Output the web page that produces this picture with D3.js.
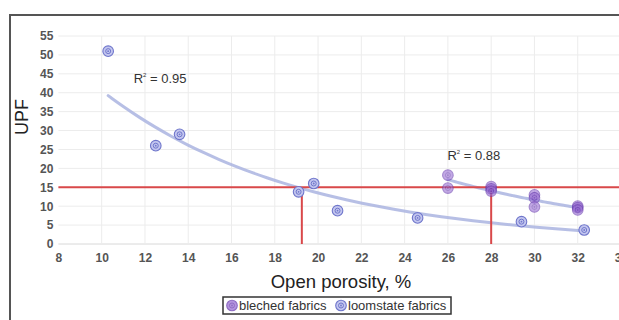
<!DOCTYPE html>
<html>
<head>
<meta charset="utf-8">
<script src="https://cdn.jsdelivr.net/npm/d3@7"></script>
<style>
  body { margin: 0; background: #fff; }
  svg { display: block; font-family: "Liberation Sans", Arial, sans-serif; }
</style>
</head>
<body>
<svg id="chart" width="619" height="320"></svg>
<script>
// values
const loomX = [10.3, 12.5, 13.6, 19.1, 19.8, 20.9, 24.6, 29.4, 32.3];
const loomY = [51, 26, 29, 13.8, 16, 8.8, 6.9, 5.9, 3.7];
const blechX = [26, 26, 28, 28, 28, 30, 30, 30, 32, 32, 32];
const blechY = [18.2, 14.8, 15.2, 14.6, 14, 13, 12.2, 9.8, 10, 9.6, 9];
const xTicks = [8, 10, 12, 14, 16, 18, 20, 22, 24, 26, 28, 30, 32, 34];
const yTicks = [0, 5, 10, 15, 20, 25, 30, 35, 40, 45, 50, 55];
const upfLimit = 15;
const limitPorosity = [19.25, 28];
const r2Labels = ["0.95", "0.88"];

const svg = d3.select("#chart");

const x = d3.scaleLinear().domain([8, 34]).range([58.4, 621]);
const y = d3.scaleLinear().domain([0, 55]).range([244, 36]);

// frame (top + left border visible)
svg.append("path")
  .attr("d", "M10,320 L10,15 L619,15")
  .attr("fill", "none")
  .attr("stroke", "#555")
  .attr("stroke-width", 2);

// grid
svg.append("g")
  .selectAll("line")
  .data(yTicks)
  .enter()
  .append("line")
  .attr("x1", x(8)).attr("x2", 619)
  .attr("y1", d => y(d)).attr("y2", d => y(d))
  .attr("stroke", d => d === 0 ? "#d8d8d8" : "#ececec")
  .attr("stroke-width", 1);

svg.append("g")
  .selectAll("line")
  .data(xTicks.filter(d => d > 8))
  .enter()
  .append("line")
  .attr("x1", d => x(d)).attr("x2", d => x(d))
  .attr("y1", y(0)).attr("y2", y(55))
  .attr("stroke", "#ececec")
  .attr("stroke-width", 1);

// axes labels
const yAxis = svg.append("g")
  .attr("transform", `translate(${x(8) - 5},0)`)
  .call(d3.axisLeft(y).tickValues(yTicks).tickSize(0).tickPadding(0));
const xAxis = svg.append("g")
  .attr("transform", `translate(0,${y(0) + 9})`)
  .call(d3.axisBottom(x).tickValues(xTicks).tickSize(0).tickPadding(0));
[yAxis, xAxis].forEach(a => {
  a.select(".domain").remove();
  a.selectAll("text")
    .attr("font-size", 12)
    .attr("font-weight", "bold")
    .attr("fill", "#555")
    .attr("font-family", "Liberation Sans, Arial, sans-serif");
});

svg.append("text")
  .attr("transform", "translate(28,117) rotate(-90)")
  .attr("text-anchor", "middle")
  .attr("font-size", 18)
  .attr("fill", "#222")
  .text("UPF");

svg.append("text")
  .attr("x", 341).attr("y", 288)
  .attr("text-anchor", "middle")
  .attr("font-size", 18.5)
  .attr("fill", "#222")
  .text("Open porosity, %");

// exponential trend (least squares on ln y), like a spreadsheet trendline
function expFit(xs, ys) {
  const ly = ys.map(Math.log);
  const mx = d3.mean(xs), my = d3.mean(ly);
  const b = d3.sum(xs, (v, i) => (v - mx) * (ly[i] - my)) / d3.sum(xs, v => (v - mx) * (v - mx));
  const a = Math.exp(my - b * mx);
  return v => a * Math.exp(b * v);
}

const trendLine = d3.line().x(d => x(d[0])).y(d => y(d[1])).curve(d3.curveBasis);

function drawTrend(xs, ys) {
  const f = expFit(xs, ys);
  const [lo, hi] = d3.extent(xs);
  const pts = d3.range(0, 31).map(i => {
    const v = lo + (hi - lo) * i / 30;
    return [v, f(v)];
  });
  svg.append("path")
    .attr("d", trendLine(pts))
    .attr("fill", "none")
    .attr("stroke", "#aab4e0")
    .attr("stroke-width", 3)
    .attr("stroke-linecap", "round")
    .attr("opacity", 0.85);
}
drawTrend(loomX, loomY);
drawTrend(blechX, blechY);

// red limit lines
const red = "#d9484a";
svg.append("line")
  .attr("x1", x(8)).attr("x2", 619)
  .attr("y1", y(upfLimit)).attr("y2", y(upfLimit))
  .attr("stroke", red).attr("stroke-width", 2);
svg.append("g")
  .selectAll("line")
  .data(limitPorosity)
  .enter()
  .append("line")
  .attr("x1", d => x(d)).attr("x2", d => x(d))
  .attr("y1", y(upfLimit)).attr("y2", y(0))
  .attr("stroke", red).attr("stroke-width", 2);

// markers
function marker(g, outerFill, ringColor, opacity) {
  g.attr("opacity", opacity);
  g.append("circle").attr("r", 5.3).attr("fill", outerFill).attr("stroke", ringColor).attr("stroke-width", 1.1);
  g.append("circle").attr("r", 2.5).attr("fill", "none").attr("stroke", ringColor).attr("stroke-width", 1);
  g.append("circle").attr("r", 0.9).attr("fill", ringColor);
}

svg.append("g")
  .selectAll("g")
  .data(loomX.map((v, i) => [v, loomY[i]]))
  .enter()
  .append("g")
  .attr("transform", d => `translate(${x(d[0])},${y(d[1])})`)
  .each(function() { marker(d3.select(this), "#c3c6ef", "#6f76cb", 1); });

svg.append("g")
  .selectAll("g")
  .data(blechX.map((v, i) => [v, blechY[i]]))
  .enter()
  .append("g")
  .attr("transform", d => `translate(${x(d[0])},${y(d[1])})`)
  .each(function() { marker(d3.select(this), "#9a70d4", "#6a3cb0", 0.6); });

// R² labels
const r2Pos = [[12.7, 42.5], [27.2, 22.3]];
r2Pos.forEach((p, i) => {
  const t = svg.append("text")
    .attr("x", x(p[0])).attr("y", y(p[1]))
    .attr("text-anchor", "middle")
    .attr("font-size", 13)
    .attr("fill", "#333");
  t.append("tspan").text("R");
  t.append("tspan").attr("font-size", 6).attr("dy", -6).text("2");
  t.append("tspan").attr("dy", 6).text(" = " + r2Labels[i]);
});

// legend
const legend = svg.append("g").attr("transform", "translate(223,297)");
legend.append("rect")
  .attr("width", 228).attr("height", 17)
  .attr("fill", "#fff").attr("stroke", "#333").attr("stroke-width", 1.5);
const items = [
  {label: "bleched fabrics", fill: "#9a70d4", ring: "#6a3cb0", op: 0.75, x: 9},
  {label: "loomstate fabrics", fill: "#c3c6ef", ring: "#6f76cb", op: 1, x: 118}
];
items.forEach(it => {
  const g = legend.append("g").attr("transform", `translate(${it.x},8.5)`);
  marker(g, it.fill, it.ring, it.op);
  legend.append("text")
    .attr("x", it.x + 7).attr("y", 13)
    .attr("font-size", 13)
    .attr("fill", "#333")
    .text(it.label);
});
</script>
</body>
</html>
